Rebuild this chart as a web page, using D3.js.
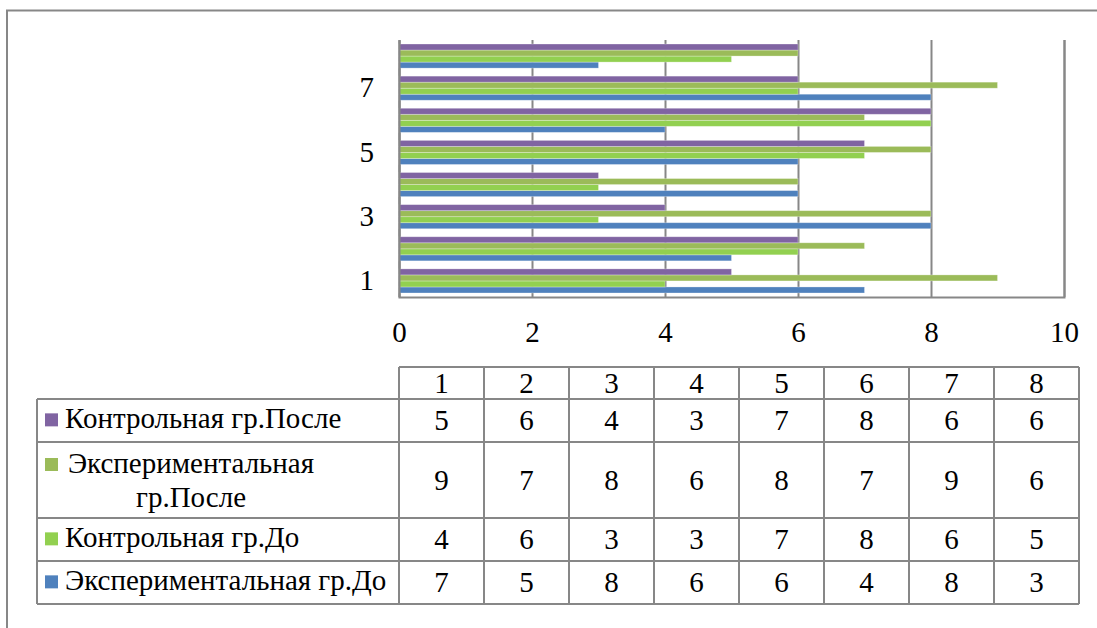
<!DOCTYPE html>
<html>
<head>
<meta charset="utf-8">
<script src="https://cdn.jsdelivr.net/npm/d3@7"></script>
</head>
<body style="margin:0;background:#fff">
<script>
// данные с графика
var categories = ["1", "2", "3", "4", "5", "6", "7", "8"];
var expBefore  = [7, 5, 8, 6, 6, 4, 8, 3];   // Экспериментальная гр.До
var ctrlBefore = [4, 6, 3, 3, 7, 8, 6, 5];   // Контрольная гр.До
var expAfter   = [9, 7, 8, 6, 8, 7, 9, 6];   // Экспериментальная гр.После
var ctrlAfter  = [5, 6, 4, 3, 7, 8, 6, 6];   // Контрольная гр.После
var xTicks = [0, 2, 4, 6, 8, 10];
var yTickLabels = ["1", "3", "5", "7"];

var series = [
  { name: "Экспериментальная гр.До", values: expBefore, color: "#4F81BD" },
  { name: "Контрольная гр.До", values: ctrlBefore, color: "#92D050" },
  { name: "Экспериментальная гр.После", values: expAfter, color: "#9BBB59" },
  { name: "Контрольная гр.После", values: ctrlAfter, color: "#8064A2" }
];

var W = 1097, H = 628;
var pLeft = 399, pRight = 1064, pTop = 40, pBottom = 297;
var fs = 29;
var gray = "#878787";
var serif = "Liberation Serif";

var svg = d3.select("body").append("svg")
  .attr("width", W).attr("height", H)
  .attr("font-family", serif);

// все подписи одним стилем
function txt(sel) {
  return sel.attr("font-family", serif).style("font-family", serif)
    .attr("font-size", fs).attr("fill", "#000");
}

// рамка
svg.append("path")
  .attr("d", "M7," + H + "V10.5H" + W)
  .attr("fill", "none").attr("stroke", gray).attr("stroke-width", 2);

var x = d3.scaleLinear().domain([0, 10]).range([pLeft, pRight]);
var y = d3.scaleBand().domain(categories.slice().reverse()).range([pTop, pBottom])
  .paddingInner(0.25).paddingOuter(0.125);
// сверху вниз: После контр., После эксп., До контр., До эксп.
var ySub = d3.scaleBand().domain(series.map(function (s) { return s.name; }).reverse())
  .range([0, y.bandwidth()]);

// сетка и ось X
var xAxis = svg.append("g")
  .attr("transform", "translate(0," + pBottom + ")")
  .call(d3.axisBottom(x).tickValues(xTicks).tickSize(-(pBottom - pTop)).tickPadding(24));
xAxis.selectAll("line").attr("stroke", gray).attr("stroke-width", 2);
xAxis.select(".domain").attr("stroke", gray).attr("stroke-width", 2);
txt(xAxis.selectAll("text"));

// столбцы
var groups = svg.selectAll("g.cat").data(series).enter().append("g").attr("class", "cat");
groups.selectAll("rect")
  .data(function (s) {
    return s.values.map(function (v, i) { return { s: s, v: v, c: categories[i] }; });
  })
  .enter().append("rect")
  .attr("x", x(0))
  .attr("y", function (d) { return y(d.c) + ySub(d.s.name); })
  .attr("width", function (d) { return x(d.v) - x(0); })
  .attr("height", ySub.bandwidth())
  .attr("fill", function (d) { return d.s.color; })
  .attr("stroke", "rgba(255,255,255,0.35)")
  .attr("stroke-width", 0.8);

// ось Y
var yAxis = svg.append("g")
  .attr("transform", "translate(" + pLeft + ",0)")
  .call(d3.axisLeft(y).tickValues(yTickLabels).tickSize(0).tickPadding(25));
yAxis.select(".domain").attr("stroke", gray).attr("stroke-width", 2);
txt(yAxis.selectAll("text"));

// таблица данных
var tblLeft = 37, tblRight = 1079;
var col = d3.scaleBand().domain(categories).range([pLeft, tblRight]);
var rowEdges = [367, 399, 442, 518, 561, 604];
var tableRows = series.slice().reverse(); // порядок строк сверху вниз

var tbl = svg.append("g").attr("stroke", gray).attr("stroke-width", 2).attr("fill", "none");
// горизонтальные линии
rowEdges.forEach(function (yy, i) {
  tbl.append("line")
    .attr("x1", i == 0 ? pLeft : tblLeft).attr("x2", tblRight)
    .attr("y1", yy).attr("y2", yy);
});
// вертикальные линии
tbl.append("line").attr("x1", tblLeft).attr("x2", tblLeft)
  .attr("y1", rowEdges[1]).attr("y2", rowEdges[5]);
categories.forEach(function (c) {
  tbl.append("line").attr("x1", col(c)).attr("x2", col(c))
    .attr("y1", rowEdges[0]).attr("y2", rowEdges[5]);
});
tbl.append("line").attr("x1", tblRight).attr("x2", tblRight)
  .attr("y1", rowEdges[0]).attr("y2", rowEdges[5]);

// заголовок
txt(svg.selectAll("text.hdr").data(categories).enter().append("text")
  .attr("class", "hdr")
  .attr("x", function (c) { return col(c) + col.bandwidth() / 2; })
  .attr("y", (rowEdges[0] + rowEdges[1]) / 2 + 0.34 * fs)
  .attr("text-anchor", "middle"))
  .text(function (c) { return c; });

tableRows.forEach(function (s, r) {
  var y0 = rowEdges[r + 1], y1 = rowEdges[r + 2], mid = (y0 + y1) / 2;
  var g = svg.append("g");
  txt(g.selectAll("text").data(s.values).enter().append("text")
    .attr("x", function (v, i) { return col(categories[i]) + col.bandwidth() / 2; })
    .attr("y", mid + 0.34 * fs)
    .attr("text-anchor", "middle"))
    .text(function (v) { return v; });

  // подпись с маркером
  if (s.name == "Экспериментальная гр.После") {
    var b1 = mid - 7;
    g.append("rect").attr("x", 45).attr("y", b1 - 15).attr("width", 13).attr("height", 13)
      .attr("fill", s.color);
    var t = txt(g.append("text").attr("text-anchor", "middle"));
    t.append("tspan").attr("x", 191).attr("y", b1).text("Экспериментальная");
    t.append("tspan").attr("x", 191).attr("y", b1 + 34).text("гр.После");
  } else {
    var b = mid + 0.34 * fs - 2;
    g.append("rect").attr("x", 45).attr("y", b - 15).attr("width", 13).attr("height", 13)
      .attr("fill", s.color);
    txt(g.append("text").attr("x", 65).attr("y", b)).text(s.name);
  }
});
</script>
</body>
</html>
